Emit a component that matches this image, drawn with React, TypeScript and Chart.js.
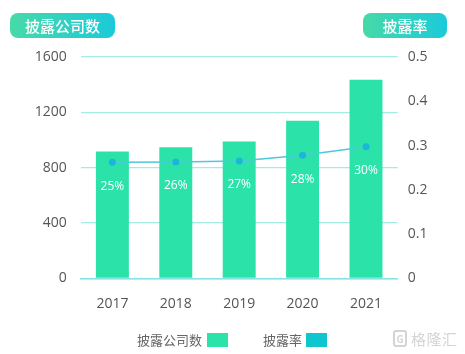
import React, { useEffect, useRef } from "react";
import { Chart, registerables } from "chart.js";

Chart.register(...registerables);

const years = ["2017", "2018", "2019", "2020", "2021"];
const companyCounts = [916, 948, 989, 1139, 1436];
const disclosureRates = [0.262, 0.263, 0.265, 0.278, 0.297];
const rateLabels = ["25%", "26%", "27%", "28%", "30%"];
const leftTicks = [0, 400, 800, 1200, 1600];
const rightTicks = [0, 0.1, 0.2, 0.3, 0.4, 0.5];

const FONT = "'Open Sans', 'Noto Sans CJK SC', sans-serif";
const CJK = "'Noto Sans CJK SC', 'Noto Sans', sans-serif";

const labelPlugin = {
  id: "rateLabels",
  afterDatasetsDraw(chart: any) {
    const meta = chart.getDatasetMeta(1);
    const ctx = chart.ctx;
    ctx.save();
    ctx.fillStyle = "#ffffff";
    ctx.font = `12px ${FONT}`;
    ctx.textAlign = "center";
    ctx.textBaseline = "middle";
    meta.data.forEach((pt: any, i: number) => {
      ctx.fillText(rateLabels[i], pt.x, pt.y + 24);
    });
    ctx.restore();
  },
};

export default function App() {
  const ref = useRef<HTMLCanvasElement>(null);
  useEffect(() => {
    const chart = new Chart(ref.current!, {
      type: "bar",
      data: {
        labels: years,
        datasets: [
          {
            type: "bar",
            label: "披露公司数",
            data: companyCounts,
            backgroundColor: "#2be3a9",
            yAxisID: "y",
            barPercentage: 0.52,
            categoryPercentage: 1,
            order: 2,
          },
          {
            type: "line",
            label: "披露率",
            data: disclosureRates,
            borderColor: "#4cc9dc",
            borderWidth: 1.5,
            pointRadius: 3.5,
            pointBackgroundColor: "#1cb6d8",
            pointBorderWidth: 0,
            yAxisID: "y1",
            order: 1,
          } as any,
        ],
      },
      options: {
        responsive: false,
        animation: false,
        layout: { padding: { top: 57, left: 0, right: 0, bottom: 0 } },
        plugins: { legend: { display: false }, tooltip: { enabled: false } },
        scales: {
          x: {
            grid: { display: false, drawTicks: false },
            border: { display: true, color: "#86e3e3", width: 1.5 },
            ticks: { color: "#555", font: { size: 14, family: FONT }, padding: 17 },
            afterFit: (s: any) => { s.height = 75.7; },
          },
          y: {
            position: "left",
            min: 0,
            max: 1600,
            afterBuildTicks: (s: any) => { s.ticks = leftTicks.map((v) => ({ value: v })); },
            grid: { color: "#a5ece0", lineWidth: 1.2, drawTicks: false },
            border: { display: false },
            ticks: { color: "#555", font: { size: 14, family: FONT }, padding: 14, callback: (v: any) => String(v) },
            afterFit: (s: any) => { s.width = 80.7; },
          },
          y1: {
            position: "right",
            min: 0,
            max: 0.5,
            afterBuildTicks: (s: any) => { s.ticks = rightTicks.map((v) => ({ value: v })); },
            grid: { display: false, drawTicks: false },
            border: { display: false },
            ticks: { color: "#555", font: { size: 14, family: FONT }, padding: 10, callback: (v: any) => String(v) },
            afterFit: (s: any) => { s.width = 67.3; },
          },
        },
      },
      plugins: [labelPlugin],
    });
    return () => chart.destroy();
  }, []);

  const boxStyle: React.CSSProperties = {
    position: "absolute",
    top: 13,
    height: 25,
    borderRadius: 8,
    background: "linear-gradient(90deg, #47d9a8, #1bcad9)",
    color: "#fff",
    fontFamily: CJK,
    fontSize: 15,
    fontWeight: 500,
    lineHeight: "25px",
    textAlign: "center",
  };

  return (
    <div style={{ position: "fixed", left: 0, top: 0, width: 465, height: 354, background: "#fff", overflow: "hidden" }}>
      <canvas ref={ref} width={465} height={354} style={{ position: "absolute", left: 0, top: 0 }} />
      <div style={{ ...boxStyle, left: 10, width: 105 }}>披露公司数</div>
      <div style={{ ...boxStyle, left: 363, width: 84 }}>披露率</div>
      <div style={{ position: "absolute", left: 137, top: 331, fontFamily: CJK, fontSize: 13, color: "#666", lineHeight: "18px" }}>披露公司数</div>
      <div style={{ position: "absolute", left: 207, top: 333, width: 21, height: 14, background: "#2be3a9" }} />
      <div style={{ position: "absolute", left: 263, top: 331, fontFamily: CJK, fontSize: 13, color: "#666", lineHeight: "18px" }}>披露率</div>
      <div style={{ position: "absolute", left: 306, top: 333, width: 21, height: 14, background: "#0fc6cf" }} />
      <div style={{ position: "absolute", left: 393, top: 329, display: "flex", alignItems: "center", color: "#d4d4d4", fontFamily: CJK, fontSize: 15, lineHeight: "19px" }}>
        <span style={{ display: "inline-block", width: 14, height: 17, border: "2px solid #d4d4d4", borderRadius: 3, boxSizing: "border-box", fontSize: 10, lineHeight: "13px", textAlign: "center", fontWeight: 700, marginRight: 4 }}>G</span>
        <span style={{ letterSpacing: 0.5 }}>格隆汇</span>
      </div>
    </div>
  );
}
